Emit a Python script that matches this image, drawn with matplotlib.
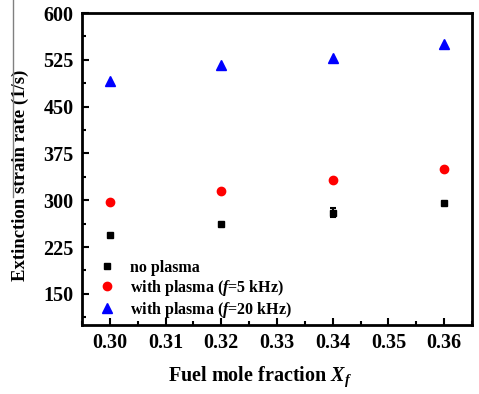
import matplotlib
matplotlib.use("Agg")
import matplotlib.pyplot as plt
from matplotlib.ticker import MultipleLocator
from matplotlib.lines import Line2D

plt.rcParams['font.family'] = ['Liberation Serif', 'DejaVu Serif']
plt.rcParams['font.weight'] = 'bold'
plt.rcParams['axes.labelweight'] = 'bold'
plt.rcParams['mathtext.fontset'] = 'custom'
plt.rcParams['mathtext.it'] = 'Liberation Serif:italic:bold'
plt.rcParams['mathtext.rm'] = 'Liberation Serif:bold'

# data
fuel_frac = [0.30, 0.32, 0.34, 0.36]
no_plasma = [244, 262, 280, 295]
no_plasma_err = [0, 0, 7, 0]
plasma_5k = [297, 314, 332, 350]
plasma_20k = [491, 517, 528, 550]

fig = plt.figure(figsize=(4.79, 3.94), dpi=100)
ax = fig.add_axes([0.1712, 0.1751, 0.8142, 0.7919])

eb = ax.errorbar(fuel_frac, no_plasma, yerr=no_plasma_err, fmt='s', color='black',
                 ms=5, capsize=2.5, elinewidth=1.5, capthick=1.5)
h1, = ax.plot(fuel_frac, plasma_5k, 'o', color='red', ms=6)
h2, = ax.plot(fuel_frac, plasma_20k, '^', color='blue', ms=6.5)

ax.set_xlim(0.295, 0.365)
ax.set_ylim(100, 600)
ax.xaxis.set_major_locator(MultipleLocator(0.01))
ax.xaxis.set_minor_locator(MultipleLocator(0.005))
ax.yaxis.set_major_locator(MultipleLocator(75))
ax.yaxis.set_minor_locator(MultipleLocator(37.5))
ax.xaxis.set_major_formatter(plt.FormatStrFormatter('%.2f'))
ax.tick_params(which='both', direction='in', top=False, right=False, width=1.5)
ax.tick_params(which='major', length=5, labelsize=14.5, pad=6)
ax.tick_params(which='minor', length=3)
for s in ax.spines.values():
    s.set_linewidth(2)

ax.set_xlabel('Fuel mole fraction $X_f$', fontsize=14.5)
ax.xaxis.set_label_coords(0.456, -0.125)
ax.set_ylabel('Extinction strain rate (1/s)', fontsize=13.5)
ax.yaxis.set_label_coords(-0.136, 0.48)

ax.legend([eb[0], h1, h2],
          ['no plasma', 'with plasma ($f$=5 kHz)', 'with plasma ($f$=20 kHz)'],
          loc='lower left', bbox_to_anchor=(0.0, -0.02), frameon=False,
          fontsize=11.5, handletextpad=0.6, labelspacing=0.13,
          handlelength=1.7, borderaxespad=0.3)

# thin grey line at the left edge of the scanned figure
fig.add_artist(Line2D([0.027, 0.027], [1.0, 0.5], color='grey', lw=1))

fig.savefig('out.png', dpi=100)
